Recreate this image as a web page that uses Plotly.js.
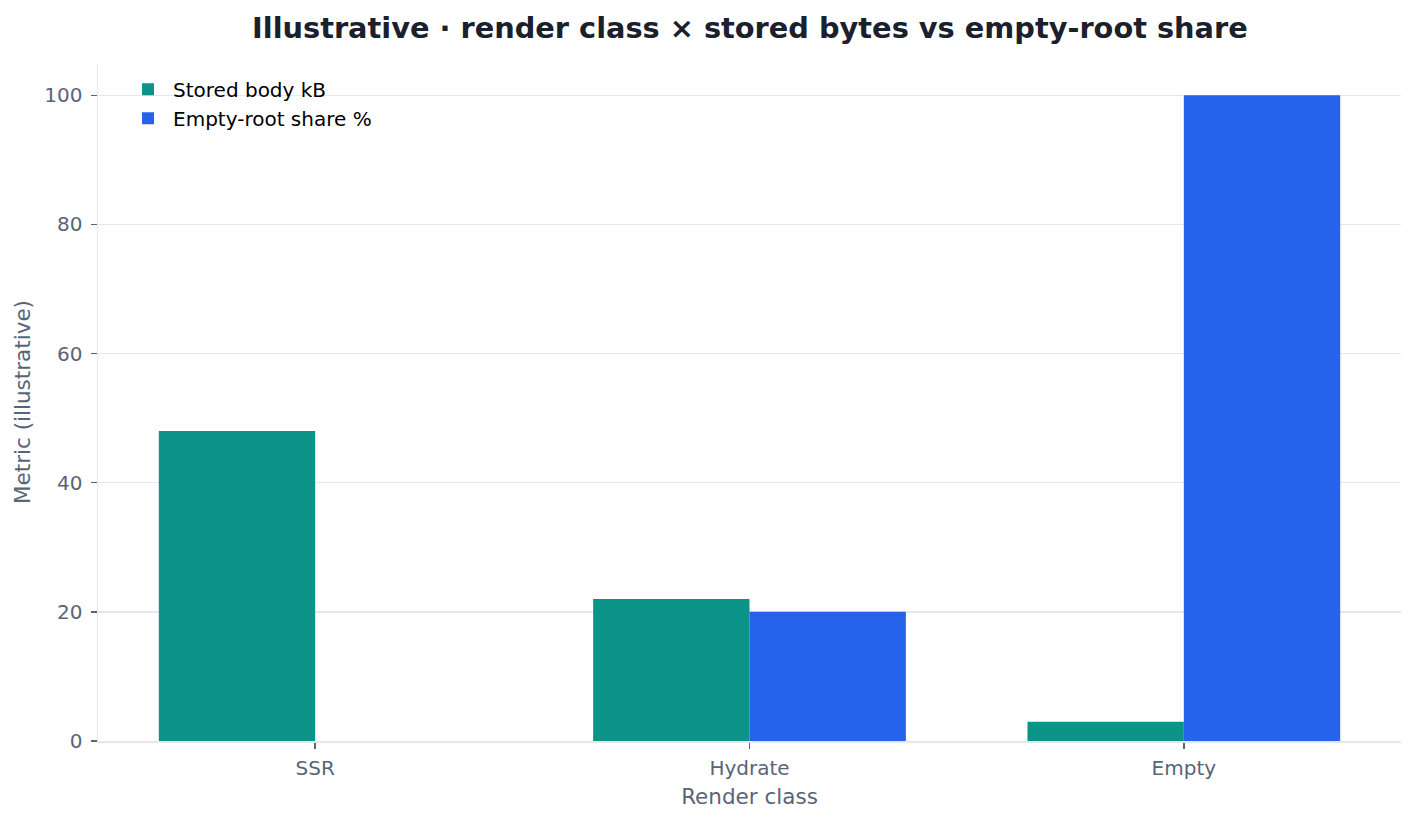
<!DOCTYPE html>
<html><head><meta charset="utf-8">
<script src="https://cdn.plot.ly/plotly-3.0.1.min.js"></script>
<style>html,body{margin:0;padding:0;background:#fff}#c{width:1416px;height:821px}</style>
</head><body><div id="c"></div>
<script>
const categories = ["SSR", "Hydrate", "Empty"];
const storedBodyKB = [48, 22, 3];
const emptyRootShare = [0, 20, 100];
const seriesNames = ["Stored body kB", "Empty-root share %"];

const font = "DejaVu Sans, sans-serif";
const data = [
  {type: "bar", x: categories, y: storedBodyKB, name: seriesNames[0], marker: {color: "#0d9488"}},
  {type: "bar", x: categories, y: emptyRootShare, name: seriesNames[1], marker: {color: "#2563eb"}}
];
const layout = {
  width: 1416, height: 821,
  margin: {l: 98, r: 15, t: 63, b: 80},
  paper_bgcolor: "#fff", plot_bgcolor: "#fff",
  barmode: "group", bargap: 0.28, bargroupgap: 0,
  font: {family: font, color: "#5a6478"},
  title: {text: "<b>Illustrative · render class × stored bytes vs empty-root share</b>",
          font: {family: font, size: 28.8, color: "#1a202c"}, x: 0.5296, xanchor: "center", y: 0.966, yanchor: "middle"},
  xaxis: {
    title: {text: "Render class", font: {size: 21.5, color: "#5a6478"}, standoff: 10},
    range: [-0.5, 2.5], ticks: "outside", ticklen: 6, tickcolor: "#5a6478", tickwidth: 1.5,
    tickfont: {size: 20, color: "#5a6478"}, ticklabelstandoff: 2, showgrid: false,
    showline: true, linecolor: "#e5e7eb", linewidth: 1.5, zeroline: false
  },
  yaxis: {
    title: {text: "Metric (illustrative)", font: {size: 21.5, color: "#5a6478"}, standoff: 8},
    range: [0, 105], tickvals: [0, 20, 40, 60, 80, 100], ticks: "outside", ticklen: 6,
    tickcolor: "#5a6478", tickwidth: 1.5, tickfont: {size: 20, color: "#5a6478"}, ticklabelstandoff: 4,
    showgrid: true, gridcolor: "#e5e7eb", gridwidth: 1.5,
    showline: true, linecolor: "#e5e7eb", linewidth: 1.5, zeroline: false
  },
  legend: {x: 0.0192, y: 0.99, xanchor: "left", yanchor: "top", bgcolor: "rgba(0,0,0,0)",
           font: {size: 20, color: "#000"}, tracegroupgap: 0, itemwidth: 40},
  showlegend: true
};
Plotly.newPlot("c", data, layout, {displayModeBar: false, staticPlot: true});
</script></body></html>
